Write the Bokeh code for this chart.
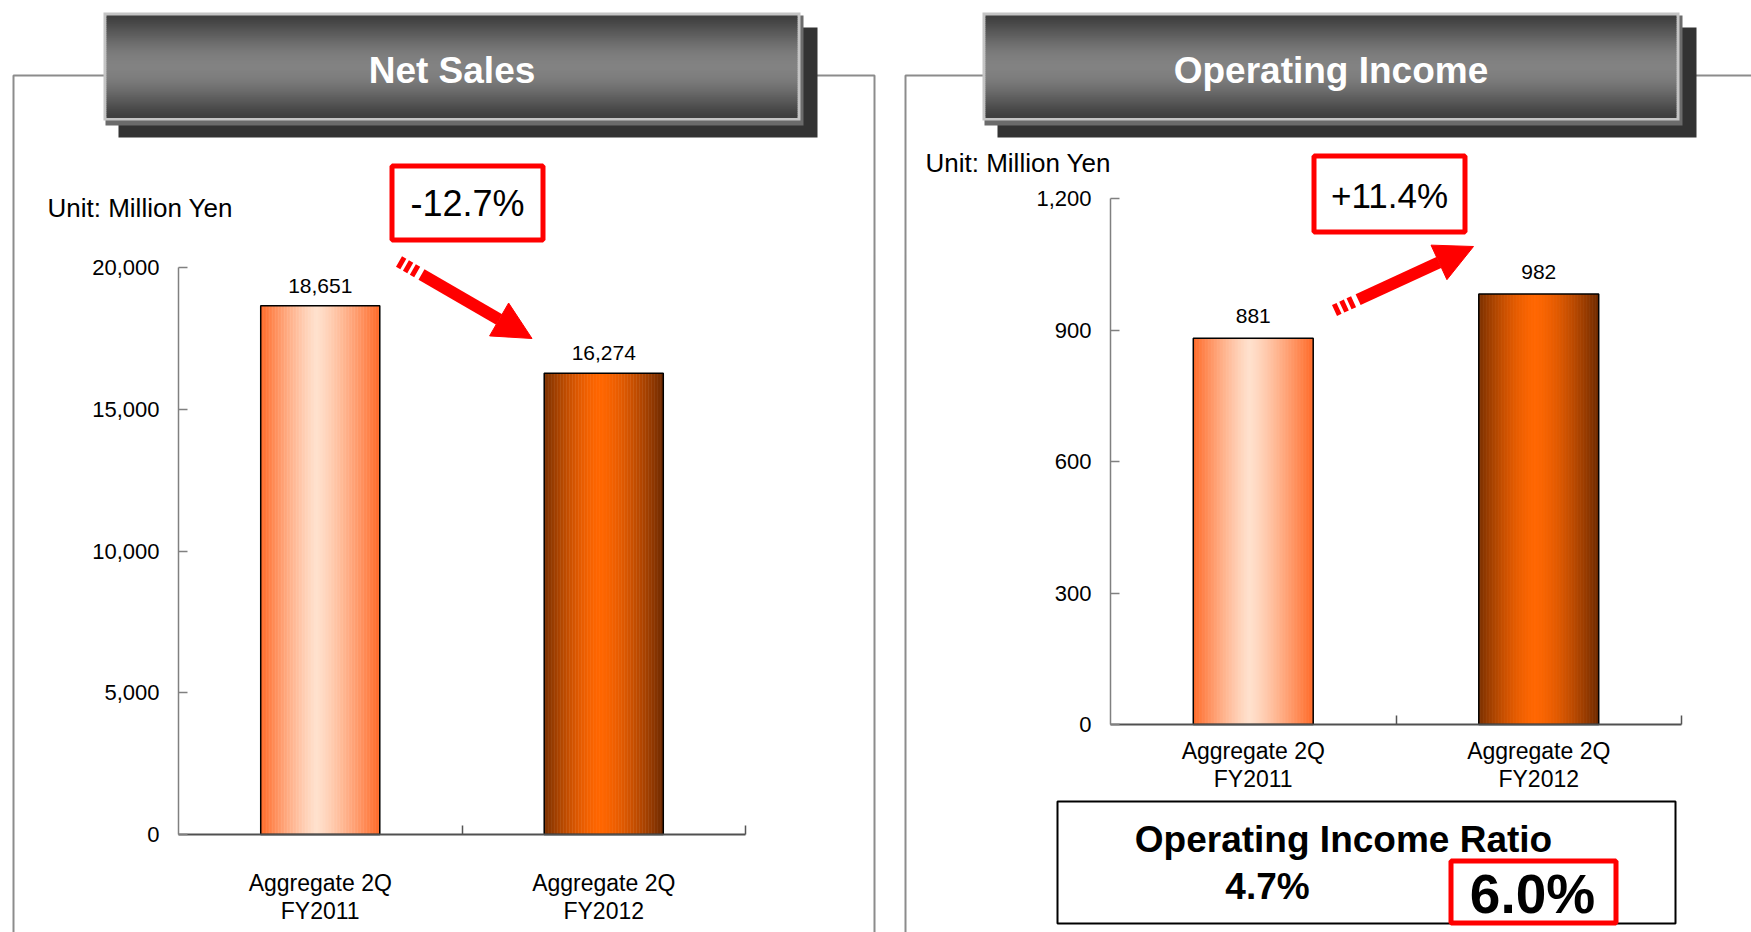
import math
from bokeh.plotting import figure
from bokeh.models import (Range1d, FixedTicker, NumeralTickFormatter, BoxAnnotation,
                          Label, Arrow, NormalHead, LinearAxis)
from bokeh.core.properties import value
from bokeh.embed import file_html
from bokeh.resources import INLINE

# ---------------- data ----------------
categories = ["Aggregate 2Q\nFY2011", "Aggregate 2Q\nFY2012"]
net_sales = [18651, 16274]
operating_income = [881, 982]
net_sales_ticks = [0, 5000, 10000, 15000, 20000]
operating_income_ticks = [0, 300, 600, 900, 1200]
net_sales_change = "-12.7%"
operating_income_change = "+11.4%"
panel_titles = ["Net Sales", "Operating Income"]
unit_label = "Unit: Million Yen"
ratio_title = "Operating Income Ratio"
operating_income_ratio = [4.7, 6.0]

# ---------------- styles / layout ----------------
FONT = "Liberation Sans"
W, H = 1751, 932
RED = "#FF0000"
BAR_FRAC = 0.42
# gradient styles per bar: left edge, peak, right edge, peak position, exponent
BAR_STYLES = [("#FF6A28", "#FFE1CD", "#FF6A28", 0.47, 1.2),
              ("#7A3000", "#FF6600", "#6E2A00", 0.47, 1.5)]


def hex2rgb(h):
    h = h.lstrip("#")
    return tuple(int(h[i:i + 2], 16) for i in (0, 2, 4))


def mix(c1, c2, a):
    r1, r2 = hex2rgb(c1), hex2rgb(c2)
    return "#%02x%02x%02x" % tuple(int(round(x + (y - x) * a)) for x, y in zip(r1, r2))


def lin_range(v0, p0, v1, p1, pmin, pmax):
    k = (p1 - p0) / (v1 - v0)
    return v0 + (pmin - p0) / k, v0 + (pmax - p0) / k


p = figure(width=W, height=H, x_range=Range1d(0, W), y_range=Range1d(0, H),
           title=None, output_backend="svg", toolbar_location=None,
           x_axis_location=None, y_axis_location=None,
           min_border=0, min_border_left=0, min_border_right=0,
           min_border_top=0, min_border_bottom=0,
           outline_line_color=None, background_fill_color="white",
           border_fill_color="white")
p.xgrid.grid_line_color = None
p.ygrid.grid_line_color = None


# ---------------- decorations (page pixel coords -> screen units) ----------------
def sx(x):
    return x


def sy(y):
    return H - y


def box(l, t, r, b, fill=None, line=None, lw=1):
    p.add_layout(BoxAnnotation(
        left=sx(l), right=sx(r), top=sy(t), bottom=sy(b),
        left_units="screen", right_units="screen", top_units="screen", bottom_units="screen",
        fill_color=fill if fill else "white", fill_alpha=1 if fill else 0,
        line_color=line, line_alpha=1, line_width=lw, level="annotation"))


def outline(l, t, r, b, color, lw):
    h = lw / 2.0
    box(l + h, t + h, r - h, b - h, None, color, lw)


def text(x, y, s, size, bold=False, color="black", align="center"):
    p.add_layout(Label(
        x=sx(x), y=sy(y), x_units="screen", y_units="screen", text=s,
        text_font=FONT, text_font_size=f"{size}px",
        text_font_style="bold" if bold else "normal", text_color=color,
        text_align=align, text_baseline="middle"))


def arrow(x0, y0, x1, y1):
    dx, dy = x1 - x0, y1 - y0
    L = math.hypot(dx, dy)
    ux, uy = dx / L, dy / L
    dash_len = 24
    p.add_layout(Arrow(
        x_start=sx(x0), y_start=sy(y0),
        x_end=sx(x0 + ux * dash_len), y_end=sy(y0 + uy * dash_len),
        start_units="screen", end_units="screen", end=None,
        line_color=RED, line_width=12, line_dash="5 3"))
    p.add_layout(Arrow(
        x_start=sx(x0 + ux * (dash_len + 2)), y_start=sy(y0 + uy * (dash_len + 2)),
        x_end=sx(x1), y_end=sy(y1),
        start_units="screen", end_units="screen",
        end=NormalHead(size=38, fill_color=RED, line_color=RED, line_width=1),
        line_color=RED, line_width=12))


def title_box(tx, s):
    box(tx + 15, 27, tx + 714, 137, "#333333")
    box(tx + 2, 15, tx + 700, 125, "#6b6b6b")
    box(tx, 12, tx + 697, 120, "#c4c4c4")
    top, bot = 15.0, 117.0
    n = 51
    step = (bot - top) / n
    for k in range(n):
        u = (k + 0.5) / n
        s_ = math.sin(math.pi * u) ** 1.3
        box(tx + 3, top + k * step, tx + 694, top + (k + 1) * step + 0.6,
            mix("#3e3e3e", "#828282", s_))
    text(tx + 348.5, 70, s, 37, bold=True, color="white")


# ---------------- chart panels ----------------
def panel(name, values, ticks, x0_px, x2_px, y0_px, ytop_px, standoff, label_dy):
    n = len(values)
    xr, yr = "x_" + name, "y_" + name
    p.extra_x_ranges[xr] = Range1d(*lin_range(0, x0_px, n, x2_px, 0, W))
    p.extra_y_ranges[yr] = Range1d(*lin_range(0, H - y0_px, ticks[-1], H - ytop_px, 0, H))
    centers = [i + 0.5 for i in range(n)]

    ya = LinearAxis(x_range_name=xr, y_range_name=yr, fixed_location=0,
                    ticker=FixedTicker(ticks=ticks, minor_ticks=[]),
                    formatter=NumeralTickFormatter(format="0,0"),
                    bounds=(ticks[0], ticks[-1]))
    ya.major_tick_in = 9
    ya.major_tick_out = 0
    ya.minor_tick_line_color = None
    ya.axis_line_color = "#808080"
    ya.axis_line_width = 1.5
    ya.major_tick_line_color = "#808080"
    ya.major_tick_line_width = 1.5
    ya.major_label_standoff = 19
    ya.major_label_text_font = FONT
    ya.major_label_text_font_size = "22px"
    ya.major_label_text_color = "black"
    p.add_layout(ya, "left")

    xa = LinearAxis(x_range_name=xr, y_range_name=yr, fixed_location=0,
                    ticker=FixedTicker(ticks=centers,
                                       minor_ticks=[float(i + 1) for i in range(n)]),
                    bounds=(0, n))
    xa.major_label_overrides = {c: cat for c, cat in zip(centers, categories)}
    xa.major_tick_line_color = None
    xa.minor_tick_in = 9
    xa.minor_tick_out = 0
    xa.minor_tick_line_color = "#555555"
    xa.minor_tick_line_width = 1.5
    xa.axis_line_color = "#505050"
    xa.axis_line_width = 2
    xa.major_label_standoff = standoff
    xa.major_label_text_font = FONT
    xa.major_label_text_font_size = "23px"
    xa.major_label_text_line_height = 1.1
    xa.major_label_text_color = "black"
    p.add_layout(xa, "below")

    ns = 80
    for i, (c, v) in enumerate(zip(centers, values)):
        el, pk, er, pp, pw = BAR_STYLES[i % len(BAR_STYLES)]
        xs, cols = [], []
        for j in range(ns):
            t = (j + 0.5) / ns
            if t < pp:
                col = mix(pk, el, ((pp - t) / pp) ** pw)
            else:
                col = mix(pk, er, ((t - pp) / (1 - pp)) ** pw)
            xs.append(c - BAR_FRAC / 2 + t * BAR_FRAC)
            cols.append(col)
        p.vbar(x=xs, top=[v] * ns, bottom=0, width=BAR_FRAC / ns * 1.3,
               fill_color=cols, line_color=None, x_range_name=xr, y_range_name=yr)
    p.vbar(x=centers, top=values, bottom=0, width=BAR_FRAC,
           fill_color=None, line_color="black", line_width=1.5,
           x_range_name=xr, y_range_name=yr)
    p.text(x=centers, y=values, text=[f"{v:,}" for v in values],
           text_align="center", text_baseline="middle", y_offset=label_dy,
           text_font=value(FONT), text_font_size="21px", text_color="black",
           x_range_name=xr, y_range_name=yr)


# frames behind everything
outline(12, 74, 875, 1000, "#8c8c8c", 2)
outline(904, 74, 1800, 1000, "#8c8c8c", 2)

# left panel: Net Sales
panel("sales", net_sales, net_sales_ticks, 178, 745, 834, 267, 29, -20)
title_box(103, panel_titles[0])
text(47, 207, unit_label, 26, align="left")
outline(389, 163, 545, 242, RED, 5)
text(467, 203, net_sales_change, 36)
arrow(398.5, 261, 531.5, 338)

# right panel: Operating Income
panel("income", operating_income, operating_income_ticks, 1110, 1681, 724, 198, 7, -22)
title_box(982, panel_titles[1])
text(925, 162, unit_label, 26, align="left")
outline(1311, 153, 1467, 234, RED, 5)
text(1389, 195, operating_income_change, 35)
arrow(1334, 310, 1473, 246)
outline(1056, 800, 1676, 924, "black", 2)
text(1343, 839, ratio_title, 37, bold=True)
text(1267, 886, f"{operating_income_ratio[0]:.1f}%", 37, bold=True)
outline(1448, 858, 1618, 925, RED, 5)
text(1532, 893, f"{operating_income_ratio[1]:.1f}%", 55, bold=True)

open("out.html", "w").write(file_html(p, INLINE))
